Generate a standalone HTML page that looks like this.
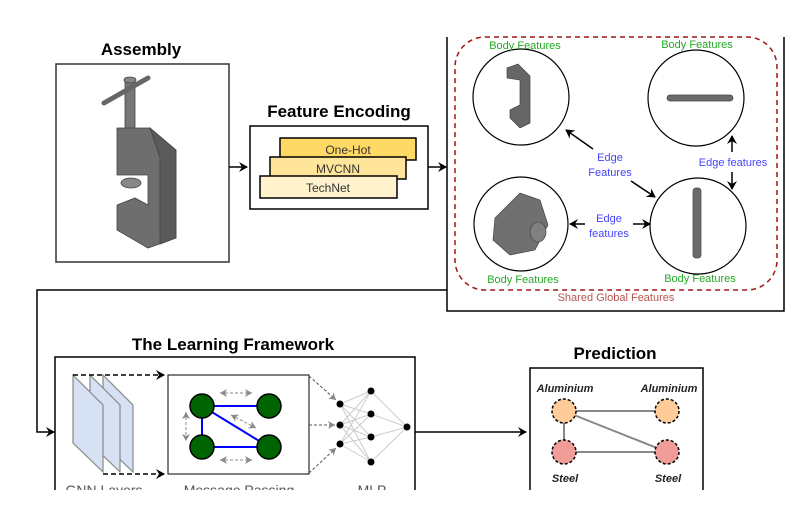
<!DOCTYPE html>
<html><head><meta charset="utf-8"><style>
html,body{margin:0;padding:0;background:#fff}
svg{display:block}
text{font-family:"Liberation Sans",Arial,sans-serif}
</style></head><body>
<svg width="795" height="510" viewBox="0 0 795 510" xmlns="http://www.w3.org/2000/svg">
<defs>
<marker id="ah" markerWidth="10" markerHeight="10" refX="8" refY="5" orient="auto" markerUnits="userSpaceOnUse"><path d="M0,0 L9,5 L0,10 L3,5 z" fill="#000"/></marker>
<marker id="ahg" markerWidth="8" markerHeight="8" refX="7" refY="4" orient="auto-start-reverse" markerUnits="userSpaceOnUse"><path d="M0,0 L7,4 L0,8 L2,4 z" fill="#888"/></marker>
</defs>

<!-- Assembly -->
<text x="141" y="55" font-size="17" font-weight="bold" text-anchor="middle">Assembly</text>
<rect x="56" y="64" width="173" height="198" fill="#fff" stroke="#333" stroke-width="1.5"/>
<g fill="#6b6b6b" stroke="#444" stroke-width="0.8">
<rect x="125" y="78" width="10" height="80" fill="#777"/>
<line x1="104" y1="103" x2="148" y2="78" stroke="#666" stroke-width="5" stroke-linecap="round"/>
<ellipse cx="130" cy="80" rx="6" ry="3" fill="#888"/>
<path d="M117,128 L150,128 L176,150 L176,238 L148,248 L117,230 L117,205 L135,198 L148,205 L148,175 L117,175 z" fill="#6e6e6e"/>
<path d="M150,128 L176,150 L176,238 L160,244 L160,158 z" fill="#5a5a5a"/>
<ellipse cx="131" cy="183" rx="10" ry="5" fill="#888"/>
</g>
<line x1="229" y1="167" x2="247" y2="167" stroke="#000" stroke-width="1.5" marker-end="url(#ah)"/>

<!-- Feature Encoding -->
<text x="339" y="117" font-size="17" font-weight="bold" text-anchor="middle">Feature Encoding</text>
<rect x="250" y="126" width="178" height="83" fill="#fff" stroke="#000" stroke-width="1.5"/>
<rect x="280" y="138" width="136" height="22" fill="#ffd966" stroke="#000" stroke-width="1.5"/>
<text x="348" y="154" font-size="12" text-anchor="middle" fill="#333">One-Hot</text>
<rect x="270" y="157" width="136" height="22" fill="#ffe599" stroke="#000" stroke-width="1.5"/>
<text x="338" y="173" font-size="12" text-anchor="middle" fill="#333">MVCNN</text>
<rect x="260" y="176" width="137" height="22" fill="#fff2cc" stroke="#000" stroke-width="1.5"/>
<text x="328" y="192" font-size="12" text-anchor="middle" fill="#333">TechNet</text>
<line x1="428" y1="167" x2="446" y2="167" stroke="#000" stroke-width="1.5" marker-end="url(#ah)"/>

<!-- Right box -->
<rect x="447" y="10" width="337" height="301" fill="#fff" stroke="#000" stroke-width="1.5"/>
<rect x="440" y="0" width="360" height="37" fill="#fff"/>
<rect x="455" y="37" width="322" height="253" rx="30" fill="none" stroke="#a31515" stroke-width="1.5" stroke-dasharray="5,4"/>
<g fill="#fff" stroke="#000" stroke-width="1.2">
<circle cx="521" cy="97" r="48"/><circle cx="696" cy="98" r="48"/>
<circle cx="521" cy="224" r="47"/><circle cx="698" cy="226" r="48"/>
</g>
<g fill="#666" stroke="#444" stroke-width="0.7">
<path d="M507,68 L518,64 L530,76 L530,123 L520,128 L510,118 L510,110 L520,105 L520,80 L507,78 z"/>
<rect x="667" y="95" width="66" height="6" rx="3" fill="#6b6b6b"/>
<path d="M495,218 L520,193 L540,200 L548,225 L535,250 L510,255 L493,240 z" fill="#707070"/>
<ellipse cx="538" cy="232" rx="8" ry="10" fill="#808080"/>
<rect x="693" y="188" width="8" height="70" rx="3" fill="#6b6b6b"/>
</g>
<g font-size="11" fill="#22aa22" text-anchor="middle">
<text x="525" y="49">Body Features</text><text x="697" y="48">Body Features</text>
<text x="523" y="283">Body Features</text><text x="700" y="282">Body Features</text>
</g>
<g font-size="11" fill="#4444ff" text-anchor="middle">
<text x="610" y="161">Edge</text><text x="610" y="176">Features</text>
<text x="733" y="166">Edge features</text>
<text x="609" y="222">Edge</text><text x="609" y="237">features</text>
</g>
<text x="616" y="301" font-size="11" fill="#b85450" text-anchor="middle">Shared Global Features</text>
<g stroke="#000" stroke-width="1.5" fill="none">
<line x1="593" y1="149" x2="566" y2="130" marker-end="url(#ah)"/>
<line x1="631" y1="181" x2="655" y2="197" marker-end="url(#ah)"/>
<line x1="732" y1="152" x2="732" y2="136" marker-end="url(#ah)"/>
<line x1="732" y1="172" x2="732" y2="189" marker-end="url(#ah)"/>
<line x1="585" y1="224" x2="570" y2="224" marker-end="url(#ah)"/>
<line x1="633" y1="224" x2="650" y2="224" marker-end="url(#ah)"/>
</g>

<!-- connector -->
<polyline points="447,290 37,290 37,432 54,432" fill="none" stroke="#000" stroke-width="1.5" marker-end="url(#ah)"/>

<!-- Learning Framework -->
<text x="233" y="350" font-size="17" font-weight="bold" text-anchor="middle">The Learning Framework</text>
<rect x="55" y="357" width="360" height="150" fill="#fff" stroke="#000" stroke-width="1.5"/>
<g fill="#d6e2f3" stroke="#888" stroke-width="1.2">
<polygon points="103,375 133,405 133,472 103,443"/>
<polygon points="90,375 120,405 120,472 90,443"/>
<polygon points="73,375 103,405 103,472 73,443"/>
</g>
<line x1="73" y1="375" x2="164" y2="375" stroke="#000" stroke-width="1.5" stroke-dasharray="5,3" marker-end="url(#ah)"/>
<line x1="103" y1="474" x2="164" y2="474" stroke="#000" stroke-width="1.5" stroke-dasharray="5,3" marker-end="url(#ah)"/>
<rect x="168" y="375" width="141" height="99" fill="#fff" stroke="#000" stroke-width="1"/>
<g stroke="#0000ff" stroke-width="2"><line x1="202" y1="406" x2="269" y2="406"/><line x1="202" y1="447" x2="269" y2="447"/><line x1="202" y1="406" x2="202" y2="447"/><line x1="202" y1="406" x2="269" y2="447"/></g>
<g stroke="#888" stroke-width="1" stroke-dasharray="3,2">
<line x1="220" y1="393" x2="252" y2="393" marker-start="url(#ahg)" marker-end="url(#ahg)"/>
<line x1="220" y1="460" x2="252" y2="460" marker-start="url(#ahg)" marker-end="url(#ahg)"/>
<line x1="186" y1="412" x2="186" y2="441" marker-start="url(#ahg)" marker-end="url(#ahg)"/>
<line x1="231" y1="415" x2="256" y2="428" marker-start="url(#ahg)" marker-end="url(#ahg)"/>
</g>
<g fill="#006400" stroke="#000" stroke-width="1.5"><circle cx="202" cy="406" r="12"/><circle cx="269" cy="406" r="12"/><circle cx="202" cy="447" r="12"/><circle cx="269" cy="447" r="12"/></g>
<g stroke="#555" stroke-width="1" stroke-dasharray="3,2" fill="none">
<line x1="309" y1="376" x2="336" y2="400" marker-end="url(#ahg)"/>
<line x1="309" y1="425" x2="335" y2="425" marker-end="url(#ahg)"/>
<line x1="309" y1="473" x2="336" y2="448" marker-end="url(#ahg)"/>
</g>
<g stroke="#ccc" stroke-width="1">
<path d="M340,404L371,391M340,404L371,414M340,404L371,437M340,404L371,462M340,425L371,391M340,425L371,414M340,425L371,437M340,425L371,462M340,444L371,391M340,444L371,414M340,444L371,437M340,444L371,462M371,391L407,427M371,414L407,427M371,437L407,427M371,462L407,427"/>
</g>
<g fill="#000"><circle cx="340" cy="404" r="3.5"/><circle cx="340" cy="425" r="3.5"/><circle cx="340" cy="444" r="3.5"/><circle cx="371" cy="391" r="3.5"/><circle cx="371" cy="414" r="3.5"/><circle cx="371" cy="437" r="3.5"/><circle cx="371" cy="462" r="3.5"/><circle cx="407" cy="427" r="3.5"/></g>
<g font-size="14" fill="#555" text-anchor="middle"><text x="104" y="495">GNN Layers</text><text x="239" y="495">Message Passing</text><text x="372" y="495">MLP</text></g>
<line x1="415" y1="432" x2="526" y2="432" stroke="#000" stroke-width="1.5" marker-end="url(#ah)"/>

<!-- Prediction -->
<text x="615" y="359" font-size="17" font-weight="bold" text-anchor="middle">Prediction</text>
<rect x="530" y="368" width="173" height="140" fill="#fff" stroke="#000" stroke-width="1.5"/>
<g stroke="#888" stroke-width="2"><line x1="564" y1="411" x2="667" y2="411"/><line x1="564" y1="452" x2="667" y2="452"/><line x1="564" y1="411" x2="564" y2="452"/><line x1="564" y1="411" x2="667" y2="452"/></g>
<g stroke="#000" stroke-width="1.5" stroke-dasharray="3,2">
<circle cx="564" cy="411" r="12" fill="#ffcc99"/><circle cx="667" cy="411" r="12" fill="#ffcc99"/>
<circle cx="564" cy="452" r="12" fill="#f19c99"/><circle cx="667" cy="452" r="12" fill="#f19c99"/>
</g>
<g font-size="11" font-weight="bold" font-style="italic" fill="#222" text-anchor="middle">
<text x="565" y="392">Aluminium</text><text x="669" y="392">Aluminium</text>
<text x="565" y="482">Steel</text><text x="668" y="482">Steel</text>
</g>
<rect x="0" y="490" width="795" height="20" fill="#fff"/>
</svg>
</body></html>
